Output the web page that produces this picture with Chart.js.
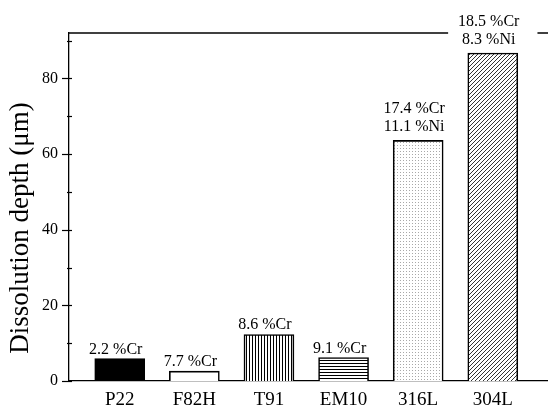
<!DOCTYPE html>
<html>
<head>
<meta charset="utf-8">
<script src="https://cdn.jsdelivr.net/npm/chart.js@4/dist/chart.umd.min.js"></script>
<style>
  html, body { margin: 0; padding: 0; background: #fff; }
  canvas { display: block; }
</style>
</head>
<body>
<canvas id="chart" width="548" height="413"></canvas>
<script>
// Steel grades and their measured dissolution depth (µm)
const grades = ['P22', 'F82H', 'T91', 'EM10', '316L', '304L'];
const depth = [5.9, 2.6, 12.3, 6.2, 63.6, 86.7];
// Composition notes printed above each bar
const crNotes = ['2.2 %Cr', '7.7 %Cr', '8.6 %Cr', '9.1 %Cr', '17.4 %Cr', '18.5 %Cr'];
const niNotes = [null, null, null, null, '11.1 %Ni', '8.3 %Ni'];
// Y axis range and tick spacing
const yMax = 92;
const yStep = 20;
const yTitle = 'Dissolution depth (\u03bcm)';

const SERIF = '"Liberation Serif", "Times New Roman", serif';

// Fill patterns for each bar
function tile(w, h, paint) {
  const c = document.createElement('canvas');
  c.width = w; c.height = h;
  const g = c.getContext('2d');
  g.fillStyle = '#fff';
  g.fillRect(0, 0, w, h);
  paint(g);
  return g.createPattern(c, 'repeat');
}
const ctx = document.getElementById('chart').getContext('2d');
const fills = [
  '#000',
  '#fff',
  tile(3, 3, g => { g.fillStyle = '#000'; g.fillRect(0, 0, 1, 3); }),
  tile(3, 3, g => { g.fillStyle = '#000'; g.fillRect(0, 0, 3, 1); }),
  tile(3, 3, g => { g.fillStyle = '#a8a8a8'; g.fillRect(1, 1, 1, 1); }),
  tile(4, 4, g => {
    g.fillStyle = '#333';
    for (let i = 0; i < 4; i++) g.fillRect(3 - i, i, 1, 1);
  })
];

const frame = {
  id: 'frame',
  beforeDatasetsDraw(chart) {
    const { ctx, chartArea, scales } = chart;
    const y = scales.y;
    ctx.save();
    ctx.strokeStyle = '#000';
    ctx.lineWidth = 1.3;
    // top border
    ctx.beginPath();
    ctx.moveTo(chartArea.left, chartArea.top);
    ctx.lineTo(chartArea.right, chartArea.top);
    ctx.stroke();
    // major ticks crossing the axis
    const x0 = chartArea.left;
    ctx.lineWidth = 1.2;
    for (let v = 0; v <= yMax; v += yStep) {
      const py = Math.round(y.getPixelForValue(v)) + 0.5;
      ctx.beginPath();
      ctx.moveTo(x0 - 7, py);
      ctx.lineTo(x0 + 3, py);
      ctx.stroke();
    }
    // minor ticks
    for (let v = yStep / 2; v <= yMax; v += yStep) {
      const py = Math.round(y.getPixelForValue(v)) + 0.5;
      ctx.beginPath();
      ctx.moveTo(x0 - 2, py);
      ctx.lineTo(x0 + 3, py);
      ctx.stroke();
    }
    // axis title, rotated
    ctx.save();
    ctx.translate(21, (chartArea.top + chartArea.bottom) / 2 + 21);
    ctx.rotate(-Math.PI / 2);
    ctx.font = '27px ' + SERIF;
    ctx.fillStyle = '#000';
    ctx.textAlign = 'center';
    ctx.textBaseline = 'middle';
    ctx.fillText(yTitle, 0, 0);
    ctx.restore();
    ctx.restore();
  },
  afterDatasetsDraw(chart) {
    const { ctx, chartArea } = chart;
    const bars = chart.getDatasetMeta(0).data;
    ctx.save();
    ctx.font = '16px ' + SERIF;
    ctx.textAlign = 'center';
    ctx.textBaseline = 'alphabetic';
    bars.forEach((bar, i) => {
      const cx = bar.x - 4;
      if (niNotes[i]) {
        const base = bar.y - 9;
        const top = base - 18 - 14;
        const w = Math.max(ctx.measureText(crNotes[i]).width, ctx.measureText(niNotes[i]).width);
        if (top < chartArea.top) {
          // clear the frame line behind the note
          ctx.fillStyle = '#fff';
          ctx.fillRect(cx - w / 2 - 10, top, w + 28, 36);
        }
        ctx.fillStyle = '#000';
        ctx.fillText(crNotes[i], cx, base - 18);
        ctx.fillText(niNotes[i], cx, base);
      } else {
        ctx.fillStyle = '#000';
        ctx.fillText(crNotes[i], cx, bar.y - 5);
      }
    });
    ctx.restore();
  }
};

new Chart(ctx, {
  type: 'bar',
  data: {
    datasets: [{
      data: depth.map((v, i) => ({ x: i, y: v })),
      backgroundColor: fills,
      borderColor: '#000',
      borderWidth: 1.6,
      barThickness: 50
    }]
  },
  options: {
    responsive: false,
    devicePixelRatio: 1,
    animation: false,
    layout: { padding: { top: 33, right: 0, left: 0, bottom: 0 } },
    plugins: { legend: { display: false }, tooltip: { enabled: false } },
    scales: {
      x: {
        type: 'linear',
        offset: false,
        min: -0.68,
        max: 5.74,
        grid: { display: false, drawTicks: false, offset: false },
        border: { display: true, color: '#000', width: 1.3 },
        afterBuildTicks(scale) { scale.ticks = grades.map((g, i) => ({ value: i })); },
        afterFit(scale) { scale.height = 32; },
        ticks: {
          color: '#000',
          font: { family: SERIF, size: 19 },
          padding: 8,
          maxRotation: 0,
          autoSkip: false,
          callback: v => grades[v]
        }
      },
      y: {
        min: 0,
        max: yMax,
        grid: { display: false, drawTicks: false },
        border: { display: true, color: '#000', width: 1.3 },
        afterFit(scale) { scale.width = 69; },
        ticks: {
          stepSize: yStep,
          includeBounds: false,
          color: '#000',
          font: { family: SERIF, size: 16 },
          padding: 11
        }
      }
    }
  },
  plugins: [frame]
});
</script>
</body>
</html>
